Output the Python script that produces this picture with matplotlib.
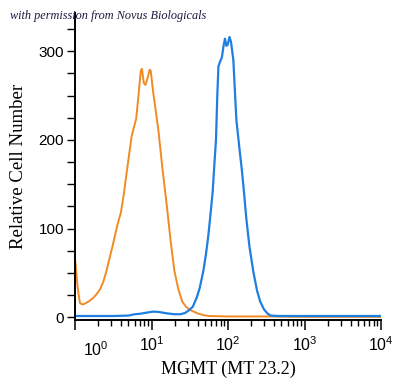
#===============================================================================
import numpy as np
import matplotlib
matplotlib.use('Agg')
import matplotlib.pyplot as plt
from matplotlib.ticker import FixedLocator, NullFormatter
#===============================================================================
# histogram traces, x read as decades (log10 of intensity), y = cell count
iso_dec = [0.0, 0.01, 0.03, 0.045, 0.065, 0.1, 0.13, 0.18, 0.24, 0.29, 0.33,
           0.37, 0.41, 0.45, 0.49, 0.53, 0.56, 0.6, 0.64, 0.675, 0.71, 0.74,
           0.77, 0.8, 0.83, 0.86, 0.875, 0.9, 0.92, 0.95, 0.975, 0.99, 1.02,
           1.06, 1.09, 1.14, 1.2, 1.25, 1.3, 1.35, 1.4, 1.45, 1.5, 1.55, 1.6,
           1.68, 1.75, 2.0, 2.5, 3.0, 4.0]
iso_cnt = [66, 58, 38, 27, 16, 14.5, 15.5, 18, 22, 27, 32,
           40, 52, 66, 80, 95, 106, 118, 140, 163, 185, 204,
           214, 224, 250, 278, 280, 264, 262, 270, 279, 278, 255,
           230, 211, 170, 126, 86, 52, 32, 18, 12, 8.5, 6.5, 4.5,
           2.5, 1.5, 1, 1, 0.5, 0.5]

mgmt_dec = [0.0, 0.5, 0.7, 0.78, 0.85, 0.95, 1.03, 1.1, 1.2, 1.3, 1.38, 1.44,
            1.49, 1.54, 1.59, 1.63, 1.677, 1.71, 1.74, 1.77, 1.8, 1.82, 1.843,
            1.86, 1.875, 1.9, 1.92, 1.94, 1.96, 1.98, 1.995, 2.02, 2.04, 2.07,
            2.09, 2.11, 2.15, 2.18, 2.21, 2.24, 2.28, 2.33, 2.38, 2.42, 2.47,
            2.52, 2.56, 2.65, 4.0]
mgmt_cnt = [1.5, 1.5, 2, 3.5, 4, 5.5, 6.5, 6, 4.5, 3.5, 3.5, 5,
            8, 12, 22, 33, 52, 70, 90, 115, 142, 170, 200,
            250, 283, 289, 293, 305, 314, 306, 307, 316, 310, 290,
            255, 222, 190, 167, 140, 111, 80, 52, 30, 18, 9,
            4, 2, 1.5, 1.5]

xtick_dec = [0, 1, 2, 3, 4]
ytick_val = [0, 100, 200, 300]
#===============================================================================
sans = 'Liberation Sans'
serif = 'Liberation Serif'
plt.rcParams['mathtext.default'] = 'regular'
plt.rcParams['mathtext.fontset'] = 'custom'
plt.rcParams['mathtext.rm'] = sans
plt.rcParams['font.family'] = sans

fig = plt.figure(figsize=(4.0, 3.84), dpi=100, facecolor='w')
ax = fig.add_axes([75/400., 1-320/384., 306/400., 307/384.])

ax.plot(10**np.array(iso_dec), iso_cnt, color='#f28a24', lw=1.4)
ax.plot(10**np.array(mgmt_dec), mgmt_cnt, color='#1f7fe0', lw=1.6)

ax.set_xscale('log')
ax.set_xlim(1, 1e4)
ax.set_ylim(-3, 343)

for s in ['top', 'right']:
    ax.spines[s].set_visible(False)
for s in ['left', 'bottom']:
    ax.spines[s].set_linewidth(1.4)

# x ticks: first label is shifted right of the corner, so draw it as text
ax.xaxis.set_major_locator(FixedLocator([10.0**d for d in xtick_dec]))
ax.set_xticklabels([''] + ['$10^{%d}$' % d for d in xtick_dec[1:]], fontsize=11.5)
minors = [m * 10.0**d for d in xtick_dec[:-1] for m in range(2, 10)]
ax.xaxis.set_minor_locator(FixedLocator(minors))
ax.xaxis.set_minor_formatter(NullFormatter())
ax.text(10**0.27, -0.065, '$10^{0}$', transform=ax.get_xaxis_transform(),
        ha='center', va='top', fontsize=11.5)

ax.set_yticks(ytick_val)
ax.set_yticklabels([str(v) for v in ytick_val], fontsize=11)
ax.yaxis.set_minor_locator(FixedLocator(np.arange(25, 340, 25)))

ax.tick_params(axis='x', which='major', direction='out', length=7, width=1.1, pad=4)
ax.tick_params(axis='x', which='minor', direction='out', length=4, width=1.0)
ax.tick_params(axis='y', which='both', direction='out', length=6, width=1.0, pad=2)

ax.set_xlabel('MGMT (MT 23.2)', fontname=serif, fontsize=13, labelpad=5)
ax.set_ylabel('Relative Cell Number', fontname=serif, fontsize=13.5, labelpad=8)

fig.text(10/400., 1-16/384., 'with permission from Novus Biologicals',
         fontname=serif, style='italic', fontsize=8.8, color='#1a1a40',
         ha='left', va='center')

plt.savefig('out.png', dpi=100)
#===============================================================================
